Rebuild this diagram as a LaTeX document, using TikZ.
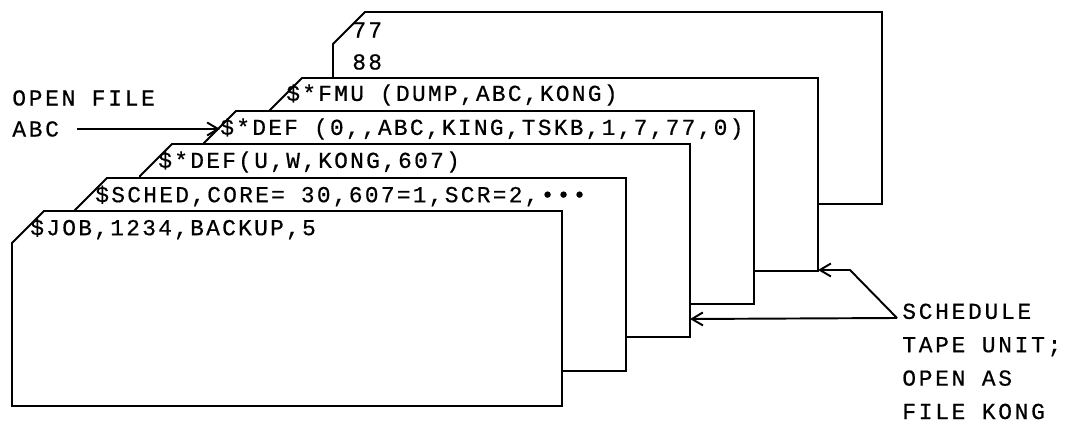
\documentclass[tikz,border=0pt]{standalone}
\usepackage{fontspec}
\usepackage{tikz}
\usetikzlibrary{arrows.meta,positioning}
\newfontfamily\plotfont{Liberation Mono}[LetterSpace=10,FakeBold=0.5]
\newfontfamily\notefont{Liberation Mono}[LetterSpace=12,FakeBold=0.5]

\begin{document}
\begin{tikzpicture}[
  x=0.02cm, y=-0.02cm,
  card/.style={draw,fill=white,line width=1.1pt,line join=miter},
  txt/.style={anchor=west,inner sep=0pt,font=\plotfont\fontsize{13}{19}\selectfont},
  note/.style={inner sep=0pt,align=left,font=\notefont\fontsize{13}{19}\selectfont},
  arr/.style={-{Straight Barb[length=2.2mm,width=2.6mm]},line width=1.1pt}
]
\useasboundingbox (0,0) rectangle (1072,425);
% cards, back to front
\draw[card] (333,44) -- (365,12) -- (882,12) -- (882,204) -- (333,204) -- cycle;
\draw[card] (270,110) -- (302,78) -- (818,78) -- (818,271) -- (270,271) -- cycle;
\draw[card] (204,143) -- (236,111) -- (754,111) -- (754,304) -- (204,304) -- cycle;
\draw[card] (140,176) -- (172,144) -- (690,144) -- (690,337) -- (140,337) -- cycle;
\draw[card] (75,210) -- (107,178) -- (626,178) -- (626,371) -- (75,371) -- cycle;
\draw[card] (12,243) -- (44,211) -- (562,211) -- (562,406) -- (12,406) -- cycle;
% card texts
\node[txt] (l77) at (352,30) {77};
\node[txt] (l88) at (352,62) {88};
\node[txt] (fmu) at (286,95) {\$*FMU (DUMP,ABC,KONG)};
\node[txt] (def0) at (220,129) {\$*DEF (0,,ABC,KING,TSKB,1,7,77,0)};
\node[txt] (defuw) at (158,162) {\$*DEF(U,W,KONG,607)};
\node[txt] (sched) at (95,196) {\$SCHED,CORE= 30,607=1,SCR=2,•••};
\node[txt] (job) at (30,229) {\$JOB,1234,BACKUP,5};
% notes
\node[note,anchor=west] (openfile) at (12,98) {OPEN FILE};
\node[note,anchor=west] (abc) at (12,129) {ABC};
\node[note,anchor=base west] (tape) at (902,419) {SCHEDULE\\TAPE UNIT;\\OPEN AS\\FILE KONG};
\coordinate (sp) at (897,318);
\coordinate (bend) at (850,270);
\coordinate (fmuedge) at (818,270);
\coordinate (defedge) at (690,319);
\draw[arr] ([xshift=18*0.02cm]abc.east) -- (def0.west);
\draw[arr] (sp) -- (bend) -- (fmuedge);
\draw[arr] (sp) -- (defedge);
\end{tikzpicture}
\end{document}
